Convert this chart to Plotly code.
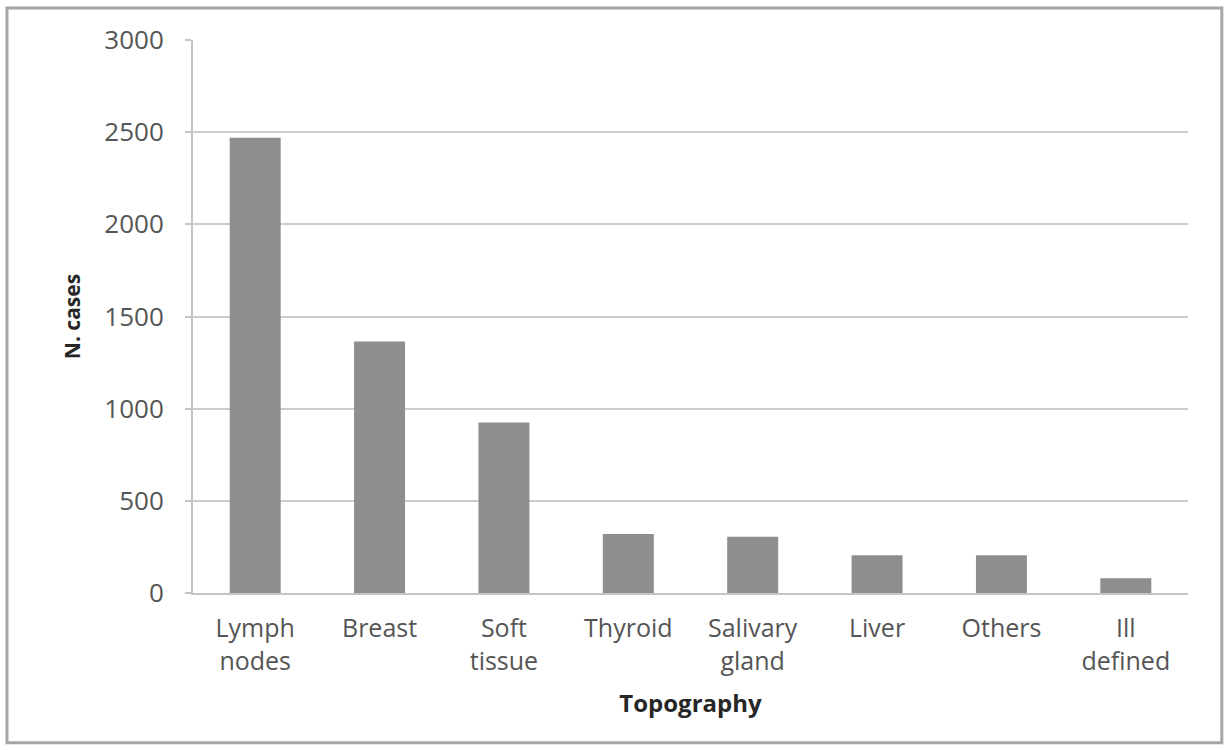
import plotly.graph_objects as go

categories = ["Lymph<br>nodes", "Breast", "Soft<br>tissue", "Thyroid", "Salivary<br>gland",
              "Liver", "Others", "Ill<br>defined"]
cases = [2470, 1365, 925, 320, 305, 205, 205, 80]
y_ticks = [0, 500, 1000, 1500, 2000, 2500, 3000]

FONT = "Open Sans"

fig = go.Figure(go.Bar(
    x=categories, y=cases,
    marker=dict(color="#8e8e8e", line=dict(width=0)),
    width=0.41,
))

fig.update_layout(
    width=1230, height=750,
    margin=dict(l=193, r=42, t=40, b=157),
    paper_bgcolor="white", plot_bgcolor="white",
    showlegend=False,
    font=dict(family=FONT, color="#505050"),
    xaxis=dict(
        showgrid=False, showline=True, linecolor="#c4c4c4", linewidth=2,
        ticks="", tickfont=dict(size=25, color="#555555"),
        ticklabelstandoff=12,
        title=dict(text="<b>Topography</b>", font=dict(size=24, color="#262626"), standoff=20),
    ),
    yaxis=dict(
        range=[0, 3000], tickvals=y_ticks,
        showgrid=True, gridcolor="#cccccc", gridwidth=1.5,
        showline=True, linecolor="#c4c4c4", linewidth=2,
        ticks="outside", ticklen=6, tickcolor="#c4c4c4", tickwidth=1.5,
        tickfont=dict(size=26, color="#555555"),
        ticklabelstandoff=16,
        zeroline=False,
        title=dict(text="<b>N. cases</b>", font=dict(size=21, color="#262626"), standoff=18),
    ),
    shapes=[dict(type="rect", xref="paper", yref="paper",
                 x0=-0.187, x1=1.034, y0=-0.271, y1=1.058,
                 line=dict(color="#a6a6a6", width=3), layer="below")],
)

fig.write_html("out.html", config={"displayModeBar": False},
               post_script="document.body.style.margin='0';document.body.style.overflow='hidden';")
